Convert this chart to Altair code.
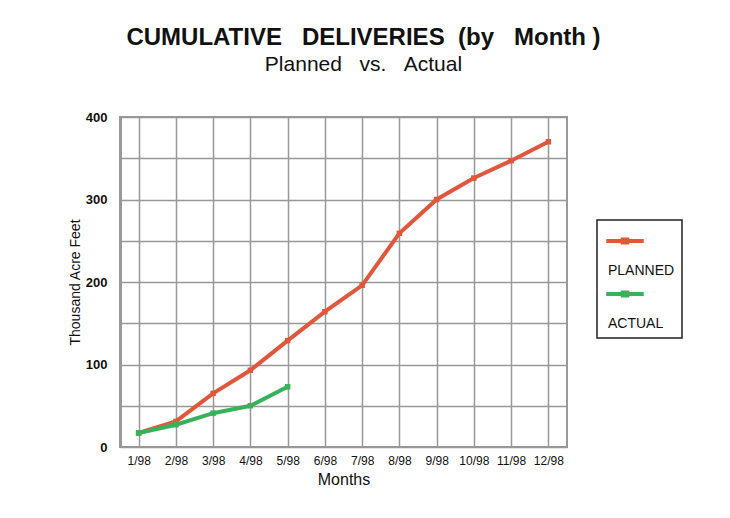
import altair as alt
import pandas as pd

months = ["1/98", "2/98", "3/98", "4/98", "5/98", "6/98", "7/98", "8/98",
          "9/98", "10/98", "11/98", "12/98"]
planned = [17, 31, 65, 93, 129, 164, 196, 259, 300, 326, 347, 370]
actual = [17, 27, 41, 50, 73]
series = ["PLANNED", "ACTUAL"]
colors = ["#e0573c", "#36b35a"]

rows = []
for m, v in zip(months, planned):
    rows.append({"Month": m, "Series": "PLANNED", "Value": v})
for m, v in zip(months, actual):
    rows.append({"Month": m, "Series": "ACTUAL", "Value": v})
df = pd.DataFrame(rows)

NB = "\u00a0"

x = alt.X("Month:N", sort=months,
          scale=alt.Scale(paddingInner=0, paddingOuter=0),
          axis=alt.Axis(title="Months", labelAngle=0, grid=True, ticks=False,
                        labelPadding=8, titlePadding=5, bandPosition=0.5,
                        domain=False))
y = alt.Y("Value:Q", scale=alt.Scale(domain=[0, 400], nice=False),
          axis=alt.Axis(title="Thousand Acre Feet", values=list(range(0, 401, 50)),
                        labelExpr="datum.value % 100 == 0 ? datum.label : ''",
                        grid=True, ticks=False, labelPadding=13, titlePadding=3,
                        domain=True))
color = alt.Color("Series:N", scale=alt.Scale(domain=series, range=colors),
                  legend=alt.Legend(title=None, orient="none", legendX=477, legendY=103,
                                    symbolType="M-1,-0.375H1M-0.12,-0.45H0.12V-0.3H-0.12Z",
                                    symbolStrokeWidth=4,
                                    symbolSize=1400, labelOffset={"expr": "-38"},
                                    labelExpr="['" + NB * 19 + "', datum.label]",
                                    labelBaseline="top", labelFontSize=14,
                                    labelFont="Liberation Sans", rowPadding=2,
                                    strokeColor="#222",
                                    fillColor="white",
                                    padding=7, labelColor="#111"))

base = alt.Chart(df).encode(x=x, y=y, color=color)
lines = base.mark_line(strokeWidth=4)
pts = base.mark_point(shape="square", filled=True, size=30, opacity=1)

chart = alt.layer(lines, pts).properties(
    width=447, height=330,
    autosize=alt.AutoSizeParams(type="none"),
    padding={"left": 112, "top": 109, "right": 150, "bottom": 60},
    title=alt.TitleParams(text="CUMULATIVE" + NB * 3 + "DELIVERIES" + NB * 2 + "(by" + NB * 3 + "Month" + NB + ")",
                          subtitle="Planned" + NB * 3 + "vs." + NB * 3 + "Actual",
                          font="Liberation Sans", fontSize=24, fontWeight="bold",
                          subtitleFont="Liberation Sans", subtitleFontSize=21,
                          subtitleColor="#111", color="#111",
                          anchor="middle", dx=20, offset=36, subtitlePadding=4),
).configure_view(stroke="#999", strokeWidth=2).configure_axis(
    gridColor="#999", gridWidth=1.5, gridOpacity=1,
    domainColor="#999", domainWidth=3,
    labelFont="Liberation Sans", labelFontSize=13, labelColor="#111",
    titleFont="Liberation Sans", titleFontSize=14, titleColor="#111",
    titleFontWeight="normal",
).configure_axisY(labelFontWeight="bold").configure_axisX(
    labelFontSize=12, titleFontSize=16
).configure_legend(strokeWidth=1.5)

chart.save("out.html", embed_options={"renderer": "svg", "actions": False})
